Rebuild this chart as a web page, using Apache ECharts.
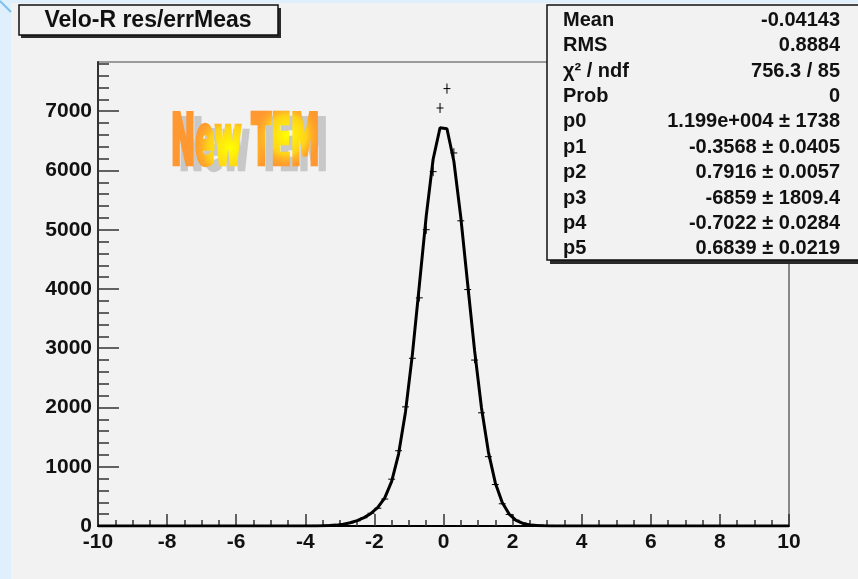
<!DOCTYPE html>
<html>
<head>
<meta charset="utf-8">
<script src="https://cdn.jsdelivr.net/npm/echarts@6/dist/echarts.min.js"></script>
<style>
  html, body { margin: 0; padding: 0; background: #dfeffb; }
  #main { width: 858px; height: 579px; }
</style>
</head>
<body>
<div id="main"></div>
<script>
// histogram bin centers and counts (bin width 0.2)
var binX = [-5.9, -5.7, -5.5, -5.3, -5.1, -4.9, -4.7, -4.5, -4.3, -4.1,
            -3.9, -3.7, -3.5, -3.3, -3.1, -2.9, -2.7, -2.5, -2.3, -2.1,
            -1.9, -1.7, -1.5, -1.3, -1.1, -0.9, -0.7, -0.5, -0.3, -0.1,
            0.1, 0.3, 0.5, 0.7, 0.9, 1.1, 1.3, 1.5, 1.7, 1.9,
            2.1, 2.3, 2.5, 2.7, 2.9, 3.1, 3.3, 3.5, 3.7, 3.9,
            4.1, 4.3, 4.5, 4.7, 4.9, 5.1, 5.3, 5.5, 5.7, 5.9];
var binY = [1, 2, 1, 2, 3, 3, 4, 5, 6, 7,
            9, 11, 13, 16, 20, 31, 52, 88, 140, 215,
            300, 455, 790, 1270, 2010, 2830, 3850, 5000, 5980, 7054,
            7381, 6295, 5150, 3990, 2800, 1910, 1170, 700, 375, 195,
            98, 50, 28, 18, 13, 10, 8, 6, 5, 4,
            3, 3, 2, 2, 1, 1, 1, 0, 1, 0];

var fitX = [-10, -3.9, -3.7, -3.5, -3.3, -3.1, -2.9, -2.7, -2.5, -2.3, -2.1,
            -1.9, -1.7, -1.5, -1.3, -1.1, -0.9, -0.7, -0.5, -0.3, -0.1,
            0.1, 0.3, 0.5, 0.7, 0.9, 1.1, 1.3, 1.5, 1.7, 1.9,
            2.1, 2.3, 2.5, 2.7, 2.9, 3.1, 3.3, 3.5, 10];
var fitY = [0, 0.4, 1.1, 2.9, 6.9, 14.9, 29.5, 53.9, 90.5, 141.4, 212.1,
            313.2, 475.6, 752.6, 1214.7, 1925.3, 2896.9, 4055.5, 5229.7, 6189.4, 6720.5,
            6703.6, 6154.3, 5211.8, 4079.9, 2958.7, 1992.0, 1247.1, 727.3, 395.7, 201.1,
            95.5, 42.5, 17.7, 6.9, 2.5, 0.9, 0.3, 0, 0];

var xTicks = [-10, -8, -6, -4, -2, 0, 2, 4, 6, 8, 10];
var yTicks = [0, 1000, 2000, 3000, 4000, 5000, 6000, 7000];
var yMinorTicks = [200, 400, 600, 800, 1200, 1400, 1600, 1800, 2200, 2400, 2600, 2800,
                   3200, 3400, 3600, 3800, 4200, 4400, 4600, 4800, 5200, 5400, 5600, 5800,
                   6200, 6400, 6600, 6800, 7200, 7400, 7600, 7800];

var statNames = ['Mean', 'RMS', 'χ² / ndf', 'Prob', 'p0', 'p1', 'p2', 'p3', 'p4', 'p5'];
var statValues = ['-0.04143', '0.8884', '756.3 / 85', '0', '1.199e+004 ± 1738',
                  '-0.3568 ± 0.0405', '0.7916 ± 0.0057', '-6859 ± 1809.4',
                  '-0.7022 ± 0.0284', '0.6839 ± 0.0219'];

var myChart;
function initChart() {
    var chartDom = document.getElementById('main');
    myChart = echarts.init(chartDom);
    var option;

    var font = '"Liberation Sans", Arial, Helvetica, sans-serif';
    var temFont = 'bold 31px "DejaVu Sans Condensed", sans-serif';

    var points = [];
    for (var i = 0; i < binX.length; i++) points.push([binX[i], binY[i]]);
    var curve = [];
    for (var j = 0; j < fitX.length; j++) curve.push([fitX[j], fitY[j]]);

    function glow(x, y, w, h) {
        return { type: 'rect', zlevel: 1, z: 2, shape: { x: x, y: y, width: w, height: h },
                 style: { blend: 'source-atop',
                          fill: { type: 'radial', x: 0.5, y: 0.5, r: 0.5,
                                  colorStops: [{ offset: 0, color: 'rgba(255,255,0,1)' },
                                               { offset: 0.55, color: 'rgba(255,225,20,0.8)' },
                                               { offset: 1, color: 'rgba(255,152,48,0)' }] } } };
    }

    var graphics = [
        { type: 'rect', z: -1, shape: { x: 11, y: 3, width: 847, height: 576 }, style: { fill: '#f2f2f2' } },
        { type: 'line', z: -1, shape: { x1: 0, y1: 1, x2: 11, y2: 12 }, style: { stroke: '#7cc2f0', lineWidth: 2 } },
        // title box
        { type: 'rect', z: 100, shape: { x: 21, y: 8, width: 260, height: 30 }, style: { fill: '#2a2a2a' } },
        { type: 'rect', z: 101, shape: { x: 19, y: 5, width: 259, height: 30 }, style: { fill: '#f2f2f2', stroke: '#111', lineWidth: 1.5 } },
        { type: 'text', z: 102, x: 148, y: 21, style: { text: 'Velo-R res/errMeas', font: 'bold 23px ' + font, fill: '#111', textAlign: 'center', textVerticalAlign: 'middle' } },
        // stats box
        { type: 'rect', z: 100, shape: { x: 550, y: 9, width: 320, height: 255 }, style: { fill: '#2a2a2a' } },
        { type: 'rect', z: 101, shape: { x: 547, y: 5, width: 320, height: 255 }, style: { fill: '#f2f2f2', stroke: '#111', lineWidth: 1.5 } },
        // New TEM: gray shadow, then letters on their own layer coloured by gradients
        { type: 'text', z: 50, x: 179, y: 151, scaleX: 1.035, scaleY: 2.26,
          style: { text: 'New TEM', font: temFont, fill: '#c8c8c8', stroke: '#c8c8c8', lineWidth: 2, textAlign: 'left', textVerticalAlign: 'middle' } },
        { type: 'text', zlevel: 1, z: 1, x: 171, y: 146, scaleX: 1.035, scaleY: 2.26,
          style: { text: 'New TEM', font: temFont, fill: '#ff9830', stroke: '#ff9830', lineWidth: 2, textAlign: 'left', textVerticalAlign: 'middle' } },
        glow(190, 108, 80, 80),
        glow(252, 100, 70, 70)
    ];
    for (var k = 0; k < statNames.length; k++) {
        var ty = 20.3 + 25.4 * k;
        graphics.push({ type: 'text', z: 102, x: 563, y: ty,
            style: { text: statNames[k], font: 'bold 20px ' + font, fill: '#111', textAlign: 'left', textVerticalAlign: 'middle' } });
        graphics.push({ type: 'text', z: 102, x: 840, y: ty,
            style: { text: statValues[k], font: 'bold 20px ' + font, fill: '#111', textAlign: 'right', textVerticalAlign: 'middle' } });
    }

    option = {
        backgroundColor: '#dfeffb',
        animation: false,
        grid: {
            left: 98, right: 69, top: 62, bottom: 53,
            show: true, borderColor: '#444', borderWidth: 1.2, backgroundColor: 'transparent'
        },
        xAxis: {
            type: 'value', min: -10, max: 10, interval: 2,
            axisLine: { onZero: false, lineStyle: { color: '#000', width: 2 } },
            axisTick: { inside: true, length: 12, lineStyle: { color: '#333', width: 1.5 } },
            minorTick: { show: true, splitNumber: 4, length: 6, lineStyle: { color: '#333', width: 1.5 } },
            splitLine: { show: false },
            axisLabel: { color: '#111', fontFamily: font, fontWeight: 'bold', fontSize: 21, margin: 6,
                         customValues: xTicks }
        },
        yAxis: [{
            type: 'value', min: 0, max: 7830,
            axisLine: { show: true, onZero: false, lineStyle: { color: '#333', width: 2 } },
            axisTick: { show: true, inside: true, length: 21, customValues: yTicks, lineStyle: { color: '#333', width: 1.5 } },
            splitLine: { show: false },
            axisLabel: { color: '#111', fontFamily: font, fontWeight: 'bold', fontSize: 21, margin: 6,
                         customValues: yTicks,
                         formatter: function (value) { return String(value); } }
        }, {
            type: 'value', min: 0, max: 7830, position: 'left',
            axisLine: { show: false, onZero: false },
            axisTick: { show: true, inside: true, length: 11, customValues: yMinorTicks, lineStyle: { color: '#333', width: 1.5 } },
            splitLine: { show: false },
            axisLabel: { show: false }
        }],
        graphic: graphics,
        series: [
            {
                name: 'fit', type: 'line', data: curve, symbol: 'none', z: 3,
                lineStyle: { color: '#000', width: 3 }
            },
            {
                name: 'data', type: 'custom', data: points, z: 4,
                renderItem: function (params, api) {
                    var x = api.value(0), y = api.value(1), e = Math.sqrt(y);
                    var l = api.coord([x - 0.1, y]), r = api.coord([x + 0.1, y]);
                    var t = api.coord([x, y + e]), b = api.coord([x, y - e]);
                    return { type: 'group', children: [
                        { type: 'line', shape: { x1: l[0], y1: l[1], x2: r[0], y2: r[1] }, style: { stroke: '#000', lineWidth: 1 } },
                        { type: 'line', shape: { x1: t[0], y1: t[1], x2: b[0], y2: b[1] }, style: { stroke: '#000', lineWidth: 1 } }
                    ] };
                }
            }
        ]
    };

    option && myChart.setOption(option);
}

document.addEventListener('DOMContentLoaded', function () {
    initChart();
});
</script>
</body>
</html>
